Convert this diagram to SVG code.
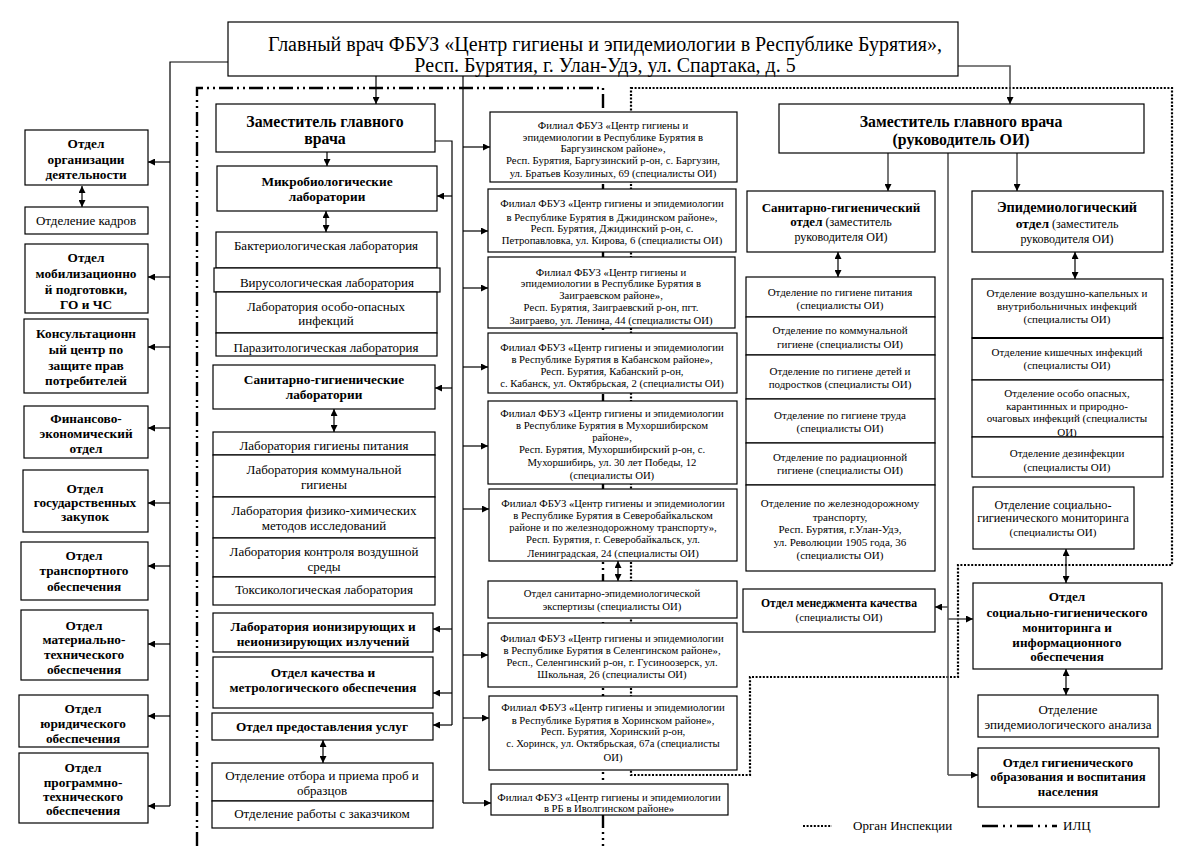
<svg xmlns="http://www.w3.org/2000/svg" width="1198" height="846" viewBox="0 0 1198 846" font-family="'Liberation Serif', 'DejaVu Serif', serif">
<style>
text{font-family:"Liberation Serif","DejaVu Serif",serif;text-anchor:middle;fill:#000}
.b{fill:#fff;stroke:#000;stroke-width:1.2}
.bl{font-weight:bold;font-size:13.3px}
.n13{font-size:13px}
.n11{font-size:11px}
.f{font-size:10.7px}
.c{fill:none;stroke:#000;stroke-width:1.2}
.g{fill:none;stroke:#555;stroke-width:1.6}
.ar{marker-end:url(#a)}
.da{marker-start:url(#a);marker-end:url(#a)}
.ilc{fill:none;stroke:#000;stroke-width:2.4;stroke-dasharray:14 4 2 4 2 4}
.oi{fill:none;stroke:#000;stroke-width:2.2;stroke-dasharray:2 1.6}
</style>
<defs>
<marker id="a" viewBox="0 0 10 10" refX="10" refY="5" markerWidth="8" markerHeight="7" markerUnits="userSpaceOnUse" orient="auto-start-reverse">
<path d="M0,0 L10,5 L0,10 z" fill="#000"/>
</marker>
</defs>
<rect width="1198" height="846" fill="#fff"/>

<g id="boundaries">
<path class="ilc" d="M197,846 V88 H603 V846"/>
<path class="oi" d="M631,88 H1172 V565 H958 V677 H750 V775 H631 Z"/>
</g>

<g id="connectors">
<path class="c" d="M228,62 H170 V806"/>
<path class="c ar" d="M170,162 H148"/>
<path class="c ar" d="M170,277 H148"/>
<path class="c ar" d="M170,347 H148"/>
<path class="c ar" d="M170,428 H148"/>
<path class="c ar" d="M170,503 H148"/>
<path class="c ar" d="M170,566 H148"/>
<path class="c ar" d="M170,644 H148"/>
<path class="c ar" d="M170,716 H148"/>
<path class="c ar" d="M170,806 H148"/>
<path class="c da" d="M82,186 V207"/>
<path class="c ar" d="M376,76 V104"/>
<path class="c" d="M463,76 V803"/>
<path class="c ar" d="M463,147 H490"/>
<path class="c ar" d="M463,231 H488"/>
<path class="c ar" d="M463,288 H488"/>
<path class="c ar" d="M463,367 H488"/>
<path class="c ar" d="M463,446 H488"/>
<path class="c ar" d="M463,509 H489"/>
<path class="c ar" d="M463,655 H488"/>
<path class="c ar" d="M463,718 H489"/>
<path class="c ar" d="M463,803 H491"/>
<path class="c" d="M435,141 H452 V725"/>
<path class="c ar" d="M452,196 H437"/>
<path class="c ar" d="M452,388 H435"/>
<path class="c ar" d="M452,629 H433"/>
<path class="c ar" d="M452,693 H433"/>
<path class="c ar" d="M452,725 H433"/>
<path class="c ar" d="M327,152 V166"/>
<path class="c da" d="M326,211 V232"/>
<path class="c da" d="M334,409 V432"/>
<path class="c da" d="M323,740 V763"/>
<path class="c da" d="M618,561 V581"/>
<path class="g ar" d="M958,66 H1010 V104"/>
<path class="g ar" d="M888,153 V191"/>
<path class="g ar" d="M1017,153 V191"/>
<path class="g" d="M948,153 V775"/>
<path class="g ar" d="M948,607 H935"/>
<path class="g ar" d="M948,619 H973"/>
<path class="g ar" d="M948,775 H978"/>
<path class="c da" d="M838,252 V277"/>
<path class="c da" d="M1075,252 V279"/>
<path class="c da" d="M1066,549 V583"/>
<path class="c da" d="M1066,669 V695"/>
</g>

<g id="n-top">
<rect class="b" x="228" y="22" width="730" height="54"/>
<text x="605" y="51" font-size="20">Главный врач ФБУЗ «Центр гигиены и эпидемиологии в Республике Бурятия»,</text>
<text x="605" y="72" font-size="20">Респ. Бурятия, г. Улан-Удэ, ул. Спартака, д. 5</text>
</g>

<g id="n-left1"><rect class="b" x="25" y="130" width="123" height="55"/><text class="bl" x="86" y="148">Отдел</text><text class="bl" x="86" y="164">организации</text><text class="bl" x="86" y="179">деятельности</text></g>
<g id="n-left2"><rect class="b" x="25" y="207" width="123" height="27"/><text class="n13" x="86" y="225">Отделение кадров</text></g>
<g id="n-left3"><rect class="b" x="25" y="244" width="123" height="69"/><text class="bl" x="86" y="262">Отдел</text><text class="bl" x="86" y="278">мобилизационно</text><text class="bl" x="86" y="294">й подготовки,</text><text class="bl" x="86" y="309">ГО и ЧС</text></g>
<g id="n-left4"><rect class="b" x="24" y="319" width="124" height="74"/><text class="bl" x="86" y="338">Консультационн</text><text class="bl" x="86" y="354">ый центр по</text><text class="bl" x="86" y="370">защите прав</text><text class="bl" x="86" y="385">потребителей</text></g>
<g id="n-left5"><rect class="b" x="24" y="406" width="124" height="52"/><text class="bl" x="86" y="423">Финансово-</text><text class="bl" x="86" y="438">экономический</text><text class="bl" x="86" y="453">отдел</text></g>
<g id="n-left6"><rect class="b" x="23" y="470" width="125" height="62"/><text class="bl" x="85" y="493">Отдел</text><text class="bl" x="85" y="507">государственных</text><text class="bl" x="85" y="521">закупок</text></g>
<g id="n-left7"><rect class="b" x="21" y="542" width="127" height="58"/><text class="bl" x="84" y="560">Отдел</text><text class="bl" x="84" y="575">транспортного</text><text class="bl" x="84" y="591">обеспечения</text></g>
<g id="n-left8"><rect class="b" x="21" y="610" width="127" height="70"/><text class="bl" x="84" y="630">Отдел</text><text class="bl" x="84" y="644">материально-</text><text class="bl" x="84" y="659">технического</text><text class="bl" x="84" y="674">обеспечения</text></g>
<g id="n-left9"><rect class="b" x="19" y="695" width="129" height="52"/><text class="bl" x="83" y="713">Отдел</text><text class="bl" x="83" y="728">юридического</text><text class="bl" x="83" y="743">обеспечения</text></g>
<g id="n-left10"><rect class="b" x="19" y="753" width="129" height="70"/><text class="bl" x="83" y="772">Отдел</text><text class="bl" x="83" y="787">программно-</text><text class="bl" x="83" y="801">технического</text><text class="bl" x="83" y="815">обеспечения</text></g>

<g id="n-zam"><rect class="b" x="216" y="104" width="219" height="48"/><text x="325" y="127" font-size="15.8" font-weight="bold">Заместитель главного</text><text x="325" y="144" font-size="15.8" font-weight="bold">врача</text></g>
<g id="n-micro"><rect class="b" x="217" y="166" width="220" height="45"/><text class="bl" x="327" y="186">Микробиологические</text><text class="bl" x="327" y="201">лаборатории</text></g>
<g id="n-lab1"><rect class="b" x="216" y="232" width="221" height="36"/><text class="n13" x="326" y="250">Бактериологическая лаборатория</text></g>
<g id="n-lab2"><rect class="b" x="214" y="268" width="226" height="24"/><text class="n13" x="327" y="287">Вирусологическая лаборатория</text></g>
<g id="n-lab3"><rect class="b" x="216" y="292" width="221" height="41"/><text class="n13" x="326" y="311">Лаборатория особо-опасных</text><text class="n13" x="326" y="325">инфекций</text></g>
<g id="n-lab4"><rect class="b" x="216" y="333" width="221" height="23"/><text class="n13" x="326" y="352">Паразитологическая лаборатория</text></g>
<g id="n-sanlab"><rect class="b" x="213" y="365" width="222" height="44"/><text class="bl" x="324" y="384">Санитарно-гигиенические</text><text class="bl" x="324" y="399">лаборатории</text></g>
<g id="n-lab5"><rect class="b" x="213" y="432" width="222" height="23"/><text class="n13" x="324" y="450">Лаборатория гигиены питания</text></g>
<g id="n-lab6"><rect class="b" x="213" y="455" width="222" height="42"/><text class="n13" x="324" y="474">Лаборатория коммунальной</text><text class="n13" x="324" y="489">гигиены</text></g>
<g id="n-lab7"><rect class="b" x="213" y="497" width="222" height="41"/><text class="n13" x="324" y="515">Лаборатория физико-химических</text><text class="n13" x="324" y="530">методов исследований</text></g>
<g id="n-lab8"><rect class="b" x="213" y="538" width="222" height="39"/><text class="n13" x="324" y="556">Лаборатория контроля воздушной</text><text class="n13" x="324" y="571">среды</text></g>
<g id="n-lab9"><rect class="b" x="213" y="577" width="222" height="28"/><text class="n13" x="324" y="594">Токсикологическая лаборатория</text></g>
<g id="n-ion"><rect class="b" x="213" y="613" width="220" height="39"/><text class="bl" x="323" y="631">Лаборатория ионизирующих и</text><text class="bl" x="323" y="646">неионизирующих излучений</text></g>
<g id="n-qual"><rect class="b" x="213" y="657" width="220" height="51"/><text class="bl" x="323" y="677">Отдел качества и</text><text class="bl" x="323" y="692">метрологического обеспечения</text></g>
<g id="n-serv"><rect class="b" x="212" y="713" width="221" height="27"/><text class="bl" x="322" y="731">Отдел предоставления услуг</text></g>
<g id="n-samp"><rect class="b" x="212" y="763" width="221" height="38"/><text class="n13" x="322" y="780">Отделение отбора и приема проб и</text><text class="n13" x="322" y="795">образцов</text></g>
<g id="n-cust"><rect class="b" x="212" y="801" width="221" height="27"/><text class="n13" x="322" y="818">Отделение работы с заказчиком</text></g>

<g id="n-f1"><rect class="b" x="490" y="112" width="247" height="70"/><text class="f" x="613" y="129">Филиал ФБУЗ «Центр гигиены и</text><text class="f" x="613" y="141">эпидемиологии в Республике Бурятия в</text><text class="f" x="613" y="152">Баргузинском районе»,</text><text class="f" x="613" y="164">Респ. Бурятия, Баргузинский р-он, с. Баргузин,</text><text class="f" x="613" y="177">ул. Братьев Козулиных, 69 (специалисты ОИ)</text></g>
<g id="n-f2"><rect class="b" x="488" y="189" width="248" height="63"/><text class="f" x="612" y="207">Филиал ФБУЗ «Центр гигиены и эпидемиологии</text><text class="f" x="612" y="221">в Республике Бурятия в Джидинском районе»,</text><text class="f" x="612" y="232">Респ. Бурятия, Джидинский р-он, с.</text><text class="f" x="612" y="244">Петропавловка, ул. Кирова, 6 (специалисты ОИ)</text></g>
<g id="n-f3"><rect class="b" x="488" y="257" width="247" height="71"/><text class="f" x="611" y="276">Филиал ФБУЗ «Центр гигиены и</text><text class="f" x="611" y="287">эпидемиологии в Республике Бурятия в</text><text class="f" x="611" y="299">Заиграевском районе»,</text><text class="f" x="611" y="311">Респ. Бурятия, Заиграевский р-он, пгт.</text><text class="f" x="611" y="324">Заиграево, ул. Ленина, 44 (специалисты ОИ)</text></g>
<g id="n-f4"><rect class="b" x="488" y="333" width="249" height="60"/><text class="f" x="612" y="351">Филиал ФБУЗ «Центр гигиены и эпидемиологии</text><text class="f" x="612" y="363">в Республике Бурятия в Кабанском районе»,</text><text class="f" x="612" y="375">Респ. Бурятия, Кабанский р-он,</text><text class="f" x="612" y="387">с. Кабанск, ул. Октябрьская, 2 (специалисты ОИ)</text></g>
<g id="n-f5"><rect class="b" x="488" y="401" width="249" height="83"/><text class="f" x="612" y="417">Филиал ФБУЗ «Центр гигиены и эпидемиологии</text><text class="f" x="612" y="429">в Республике Бурятия в Мухоршибирском</text><text class="f" x="612" y="441">районе»,</text><text class="f" x="612" y="453">Респ. Бурятия, Мухоршибирский р-он, с.</text><text class="f" x="612" y="466">Мухоршибирь, ул. 30 лет Победы, 12</text><text class="f" x="612" y="479">(специалисты ОИ)</text></g>
<g id="n-f6"><rect class="b" x="489" y="489" width="248" height="72"/><text class="f" x="613" y="507">Филиал ФБУЗ «Центр гигиены и эпидемиологии</text><text class="f" x="613" y="519">в Республике Бурятия в Северобайкальском</text><text class="f" x="613" y="531">районе и по железнодорожному транспорту»,</text><text class="f" x="613" y="543">Респ. Бурятия, г. Северобайкальск, ул.</text><text class="f" x="613" y="557">Ленинградская, 24 (специалисты ОИ)</text></g>
<g id="n-exp"><rect class="b" x="488" y="581" width="249" height="37"/><text class="f" x="612" y="597">Отдел санитарно-эпидемиологической</text><text class="f" x="612" y="610">экспертизы (специалисты ОИ)</text></g>
<g id="n-f7"><rect class="b" x="488" y="623" width="249" height="64"/><text class="f" x="612" y="642">Филиал ФБУЗ «Центр гигиены и эпидемиологии</text><text class="f" x="612" y="654">в Республике Бурятия в Селенгинском районе»,</text><text class="f" x="612" y="666">Респ., Селенгинский р-он, г. Гусиноозерск, ул.</text><text class="f" x="612" y="678">Школьная, 26 (специалисты ОИ)</text></g>
<g id="n-f8"><rect class="b" x="489" y="696" width="248" height="74"/><text class="f" x="613" y="711">Филиал ФБУЗ «Центр гигиены и эпидемиологии</text><text class="f" x="613" y="724">в Республике Бурятия в Хоринском районе»,</text><text class="f" x="613" y="735">Респ. Бурятия, Хоринский р-он,</text><text class="f" x="613" y="747">с. Хоринск, ул. Октябрьская, 67а (специалисты</text><text class="f" x="613" y="761">ОИ)</text></g>
<g id="n-f9"><rect class="b" x="491" y="784" width="237" height="31"/><text class="f" x="609" y="801">Филиал ФБУЗ «Центр гигиены и эпидемиологии</text><text class="f" x="609" y="812">в РБ в Иволгинском районе»</text></g>

<g id="n-zamoi"><rect class="b" x="779" y="104" width="365" height="49"/><text x="961" y="127" font-size="15.8" font-weight="bold">Заместитель главного врача</text><text x="961" y="145" font-size="15.8" font-weight="bold">(руководитель ОИ)</text></g>
<g id="n-sgo"><rect class="b" x="747" y="191" width="188" height="61"/><text x="841" y="212" font-size="13" font-weight="bold">Санитарно-гигиенический</text><text x="841" y="226" font-size="12"><tspan font-weight="bold" font-size="13">отдел</tspan> (заместитель</text><text x="841" y="241" font-size="12">руководителя ОИ)</text></g>
<g id="n-epo"><rect class="b" x="972" y="191" width="191" height="61"/><text x="1067" y="212" font-size="14.3" font-weight="bold">Эпидемиологический</text><text x="1067" y="228" font-size="12"><tspan font-weight="bold" font-size="13.5">отдел</tspan> (заместитель</text><text x="1067" y="243" font-size="12">руководителя ОИ)</text></g>

<g id="n-s1"><rect class="b" x="746" y="277" width="189" height="40"/><text class="n11" x="840" y="296">Отделение по гигиене питания</text><text class="n11" x="840" y="309">(специалисты ОИ)</text></g>
<g id="n-s2"><rect class="b" x="746" y="317" width="189" height="38"/><text class="n11" x="840" y="334">Отделение по коммунальной</text><text class="n11" x="840" y="348">гигиене (специалисты ОИ)</text></g>
<g id="n-s3"><rect class="b" x="746" y="355" width="189" height="44"/><text class="n11" x="840" y="375">Отделение по гигиене детей и</text><text class="n11" x="840" y="388">подростков (специалисты ОИ)</text></g>
<g id="n-s4"><rect class="b" x="746" y="399" width="189" height="44"/><text class="n11" x="840" y="419">Отделение по гигиене труда</text><text class="n11" x="840" y="432">(специалисты ОИ)</text></g>
<g id="n-s5"><rect class="b" x="746" y="443" width="189" height="42"/><text class="n11" x="840" y="461">Отделение по радиационной</text><text class="n11" x="840" y="474">гигиене (специалисты ОИ)</text></g>
<g id="n-s6"><rect class="b" x="746" y="485" width="189" height="86"/><text class="n11" x="840" y="507">Отделение по железнодорожному</text><text class="n11" x="840" y="521">транспорту,</text><text class="n11" x="840" y="533">Респ. Бурятия, г.Улан-Удэ,</text><text class="n11" x="840" y="546">ул. Революции 1905 года, 36</text><text class="n11" x="840" y="559">(специалисты ОИ)</text></g>

<g id="n-e1"><rect class="b" x="972" y="279" width="191" height="59"/><text class="n11" x="1067" y="297">Отделение воздушно-капельных и</text><text class="n11" x="1067" y="310">внутрибольничных инфекций</text><text class="n11" x="1067" y="323">(специалисты ОИ)</text></g>
<g id="n-e2"><rect class="b" x="972" y="338" width="191" height="42"/><line x1="972" y1="338" x2="1163" y2="338" stroke="#000" stroke-width="2.2"/><text class="n11" x="1067" y="356">Отделение кишечных инфекций</text><text class="n11" x="1067" y="369">(специалисты ОИ)</text></g>
<g id="n-e3"><rect class="b" x="972" y="380" width="191" height="57"/><text class="n11" x="1067" y="397">Отделение особо опасных,</text><text class="n11" x="1067" y="410">карантинных и природно-</text><text class="n11" x="1067" y="422">очаговых инфекций (специалисты</text><text class="n11" x="1067" y="436">ОИ)</text></g>
<g id="n-e4"><rect class="b" x="972" y="437" width="191" height="40"/><text class="n11" x="1067" y="457">Отделение дезинфекции</text><text class="n11" x="1067" y="471">(специалисты ОИ)</text></g>
<g id="n-e5"><rect class="b" x="973" y="487" width="161" height="62"/><text x="1053" y="509" font-size="12.2">Отделение социально-</text><text x="1053" y="522" font-size="12.2">гигиенического мониторинга</text><text class="n11" x="1053" y="536">(специалисты ОИ)</text></g>

<g id="n-mq"><rect class="b" x="743" y="589" width="192" height="43"/><text x="839" y="607" font-size="11.7" font-weight="bold">Отдел менеджмента качества</text><text class="n11" x="839" y="621">(специалисты ОИ)</text></g>
<g id="n-sgm"><rect class="b" x="973" y="583" width="189" height="86"/><text x="1067" y="601" font-size="13.2" font-weight="bold">Отдел</text><text x="1067" y="617" font-size="13.2" font-weight="bold">социально-гигиенического</text><text x="1067" y="632" font-size="13.2" font-weight="bold">мониторинга и</text><text x="1067" y="647" font-size="13.2" font-weight="bold">информационного</text><text x="1067" y="661" font-size="13.2" font-weight="bold">обеспечения</text></g>
<g id="n-ea"><rect class="b" x="978" y="695" width="180" height="42"/><text class="n13" x="1068" y="714">Отделение</text><text class="n13" x="1068" y="729">эпидемиологического анализа</text></g>
<g id="n-edu"><rect class="b" x="978" y="748" width="181" height="59"/><text x="1068" y="767" font-size="12.9" font-weight="bold">Отдел гигиенического</text><text x="1068" y="781" font-size="12.9" font-weight="bold">образования и воспитания</text><text x="1068" y="796" font-size="12.9" font-weight="bold">населения</text></g>

<g id="legend">
<path class="oi" d="M803,826 H832"/>
<text class="n13" x="853" y="830" style="text-anchor:start">Орган Инспекции</text>
<path class="ilc" d="M982,826 H1057" style="stroke-dasharray:16 5 2 5 2 5"/>
<text class="n13" x="1063" y="830" style="text-anchor:start">ИЛЦ</text>
</g>
</svg>
